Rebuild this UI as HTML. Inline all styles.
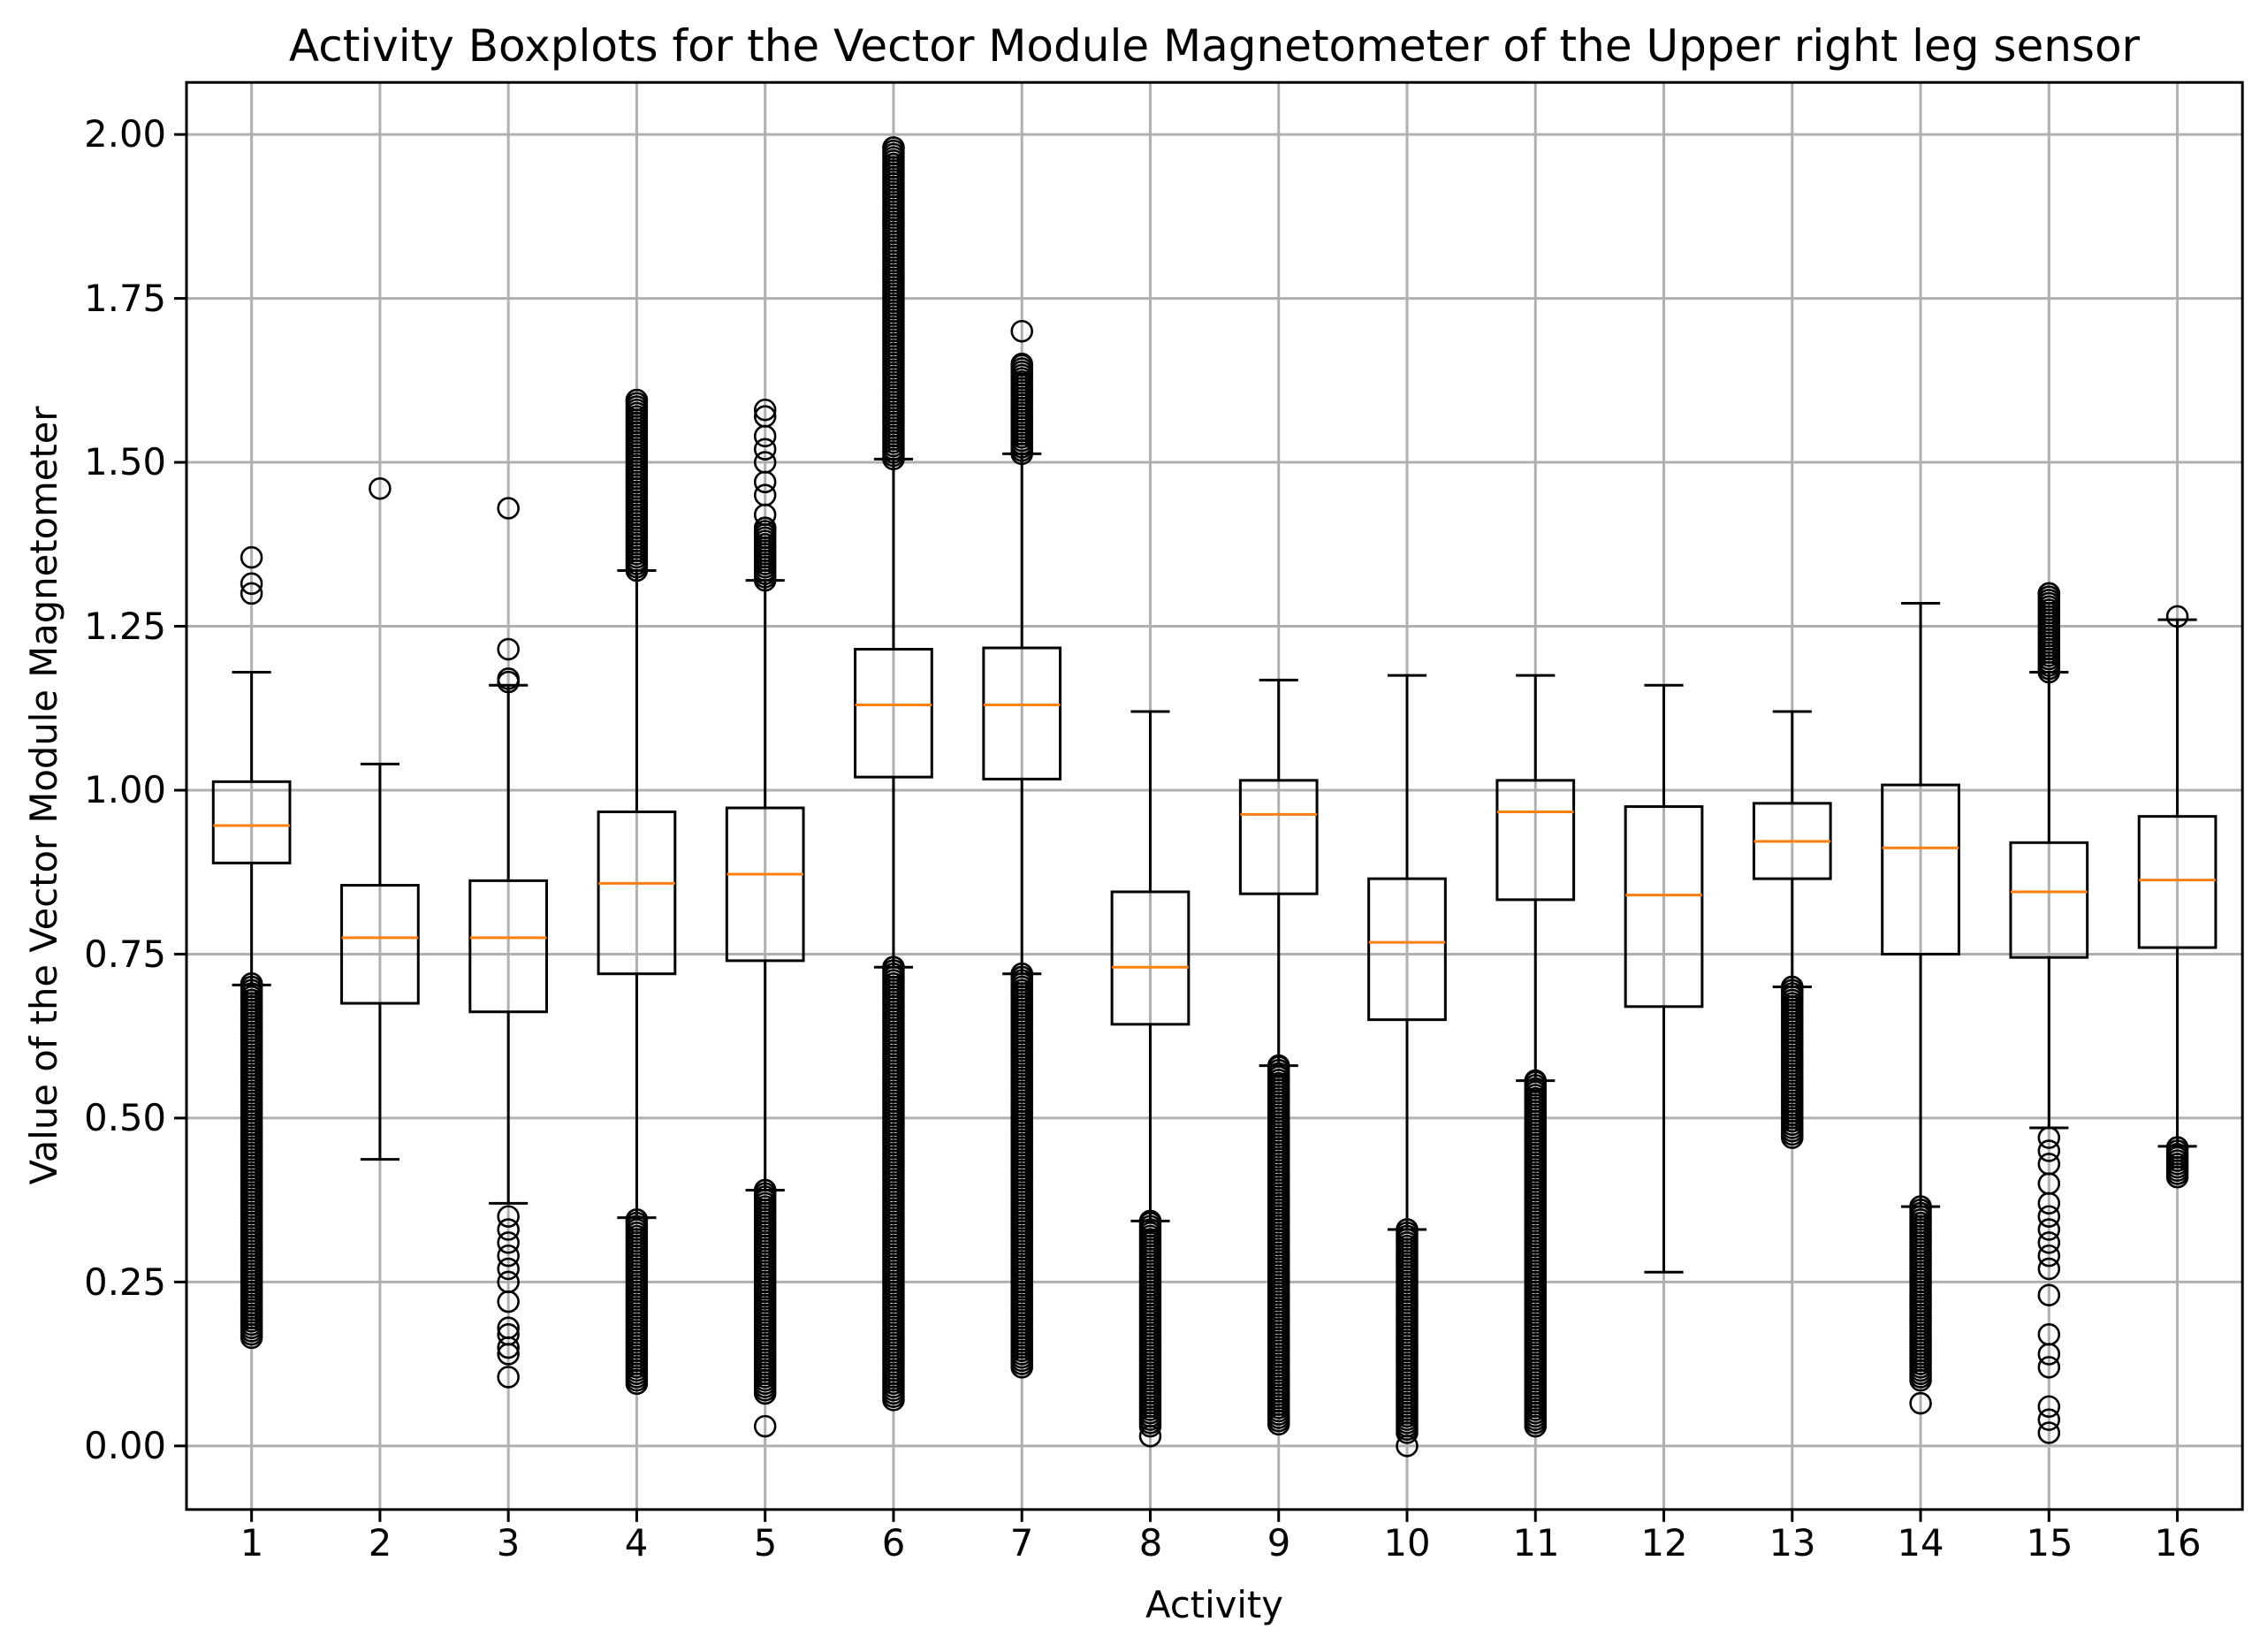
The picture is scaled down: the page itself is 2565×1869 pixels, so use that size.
<!DOCTYPE html>
<html><head><meta charset="utf-8"><style>
html,body{margin:0;padding:0;background:#fff;}
body{position:relative;width:2565px;height:1869px;overflow:hidden;}
svg{display:block;position:absolute;left:0;top:0;}
.lbl{position:absolute;font-family:"DejaVu Sans","Liberation Sans",sans-serif;color:#000;white-space:nowrap;line-height:1;font-size:41.7px;}
.yl{right:2377px;text-align:right;transform:translateY(-50%);}
.xl{width:200px;margin-left:-100px;text-align:center;top:1725px;}
</style></head><body>
<svg id="chart" width="2565" height="1869" xmlns="http://www.w3.org/2000/svg">
<rect width="2565" height="1869" fill="#fff"/>
<g id="grid"></g><g id="boxes"></g><g id="axes"></g>
</svg>
<div class="lbl" style="left:211px;width:2326px;text-align:center;top:52px;transform:translateY(-50%);font-size:50px;">Activity Boxplots for the Vector Module Magnetometer of the Upper right leg sensor</div>
<div class="lbl" style="left:211px;width:2326px;text-align:center;top:1816px;transform:translateY(-50%);">Activity</div>
<div class="lbl" style="left:50px;top:900px;transform:translate(-50%,-50%) rotate(-90deg);">Value of the Vector Module Magnetometer</div>
<div class="lbl yl" style="top:1636px;">0.00</div>
<div class="lbl yl" style="top:1450.5px;">0.25</div>
<div class="lbl yl" style="top:1265px;">0.50</div>
<div class="lbl yl" style="top:1079.5px;">0.75</div>
<div class="lbl yl" style="top:894px;">1.00</div>
<div class="lbl yl" style="top:708.5px;">1.25</div>
<div class="lbl yl" style="top:523px;">1.50</div>
<div class="lbl yl" style="top:337.5px;">1.75</div>
<div class="lbl yl" style="top:152px;">2.00</div>
<div class="lbl xl" style="left:285px;">1</div>
<div class="lbl xl" style="left:430px;">2</div>
<div class="lbl xl" style="left:575px;">3</div>
<div class="lbl xl" style="left:720px;">4</div>
<div class="lbl xl" style="left:866px;">5</div>
<div class="lbl xl" style="left:1011px;">6</div>
<div class="lbl xl" style="left:1156px;">7</div>
<div class="lbl xl" style="left:1302px;">8</div>
<div class="lbl xl" style="left:1447px;">9</div>
<div class="lbl xl" style="left:1592px;">10</div>
<div class="lbl xl" style="left:1738px;">11</div>
<div class="lbl xl" style="left:1883px;">12</div>
<div class="lbl xl" style="left:2028px;">13</div>
<div class="lbl xl" style="left:2173px;">14</div>
<div class="lbl xl" style="left:2319px;">15</div>
<div class="lbl xl" style="left:2464px;">16</div>
<script>
const categories=['1','2','3','4','5','6','7','8','9','10','11','12','13','14','15','16'];
const q1=[0.889,0.675,0.662,0.72,0.74,1.02,1.017,0.643,0.842,0.65,0.833,0.67,0.865,0.75,0.745,0.76];
const medians=[0.946,0.775,0.775,0.858,0.872,1.13,1.13,0.73,0.963,0.768,0.967,0.84,0.922,0.912,0.845,0.863];
const q3=[1.013,0.855,0.862,0.967,0.973,1.215,1.217,0.845,1.015,0.865,1.015,0.975,0.98,1.008,0.92,0.96];
const whiskLow=[0.703,0.437,0.37,0.348,0.39,0.73,0.72,0.343,0.58,0.33,0.557,0.265,0.70,0.365,0.485,0.457];
const whiskHigh=[1.18,1.04,1.16,1.335,1.32,1.505,1.513,1.12,1.168,1.175,1.175,1.16,1.12,1.285,1.18,1.26];
const denseLow=[[0.165,0.705],null,null,[0.095,0.345],[0.08,0.39],[0.07,0.73],[0.12,0.72],[0.03,0.343],[0.033,0.58],[0.02,0.33],[0.03,0.557],null,[0.47,0.70],[0.1,0.365],null,[0.41,0.455]];
const denseHigh=[null,null,null,[1.335,1.595],[1.32,1.40],[1.505,1.98],[1.513,1.65],null,null,null,null,null,null,null,[1.18,1.30],null];
const sparseOut=[[1.30,1.315,1.355],[1.46],[1.165,1.17,1.215,1.43,0.105,0.14,0.15,0.17,0.18,0.22,0.25,0.27,0.29,0.31,0.33,0.35],[],[0.03,1.42,1.45,1.47,1.50,1.52,1.54,1.57,1.58],[],[1.70],[0.015],[],[0.0],[],[],[],[0.065],[0.02,0.04,0.06,0.12,0.14,0.17,0.23,0.27,0.29,0.31,0.33,0.35,0.37,0.40,0.43,0.45,0.47],[1.265]];
const yTicks=[0,0.25,0.5,0.75,1.0,1.25,1.5,1.75,2.0];
const S=2565/1568;
const L=129*S,R=1551*S,T=57*S,B=1044*S;
const y=v=>(1000-v*453.5)*S;
const x=i=>(174+i*(1506-174)/15)*S;
const NS='http://www.w3.org/2000/svg';
function mk(p,t,a){const e=document.createElementNS(NS,t);for(const k in a)e.setAttribute(k,a[k]);p.appendChild(e);return e;}
const grid=document.getElementById('grid'),boxes=document.getElementById('boxes'),axes=document.getElementById('axes');
yTicks.forEach(v=>{
 const g=mk(grid,'line',{x1:L,x2:R,y1:y(v),y2:y(v),stroke:'#b0b0b0','stroke-width':3});
 
 
 mk(axes,'line',{x1:L-14,x2:L,y1:y(v),y2:y(v),stroke:'#000','stroke-width':3});
});
categories.forEach((c,i)=>{
 const g=mk(grid,'line',{x1:x(i),x2:x(i),y1:T,y2:B,stroke:'#b0b0b0','stroke-width':3});
 
 
 mk(axes,'line',{x1:x(i),x2:x(i),y1:B,y2:B+14,stroke:'#000','stroke-width':3});
 const grp=mk(boxes,'g',{});
 
 
 const cx=x(i),hw=26.5*S,cw=13.5*S,st={stroke:'#000','stroke-width':3,fill:'none'};
 mk(grp,'line',Object.assign({x1:cx,x2:cx,y1:y(q1[i]),y2:y(whiskLow[i])},st));
 mk(grp,'line',Object.assign({x1:cx,x2:cx,y1:y(q3[i]),y2:y(whiskHigh[i])},st));
 mk(grp,'line',Object.assign({x1:cx-cw,x2:cx+cw,y1:y(whiskLow[i]),y2:y(whiskLow[i])},st));
 mk(grp,'line',Object.assign({x1:cx-cw,x2:cx+cw,y1:y(whiskHigh[i]),y2:y(whiskHigh[i])},st));
 mk(grp,'rect',Object.assign({x:cx-hw,y:y(q3[i]),width:2*hw,height:y(q1[i])-y(q3[i])},st));
 mk(grp,'line',{x1:cx-hw,x2:cx+hw,y1:y(medians[i]),y2:y(medians[i]),stroke:'#ff7f0e',fill:'none','stroke-width':3});
 const pts=[...sparseOut[i]];
 [denseLow[i],denseHigh[i]].forEach(r=>{if(r){for(let v=r[0];v<=r[1]+1e-9;v+=0.005)pts.push(v);pts.push(r[1]);}});
 pts.forEach(v=>{mk(grp,'circle',{cx:cx,cy:y(v),r:7*S,fill:'none',stroke:'#000','stroke-width':2.6});});
});
const fr=mk(axes,'rect',{x:L,y:T,width:R-L,height:B-T,fill:'none',stroke:'#000','stroke-width':3});


</script>
</body></html>
